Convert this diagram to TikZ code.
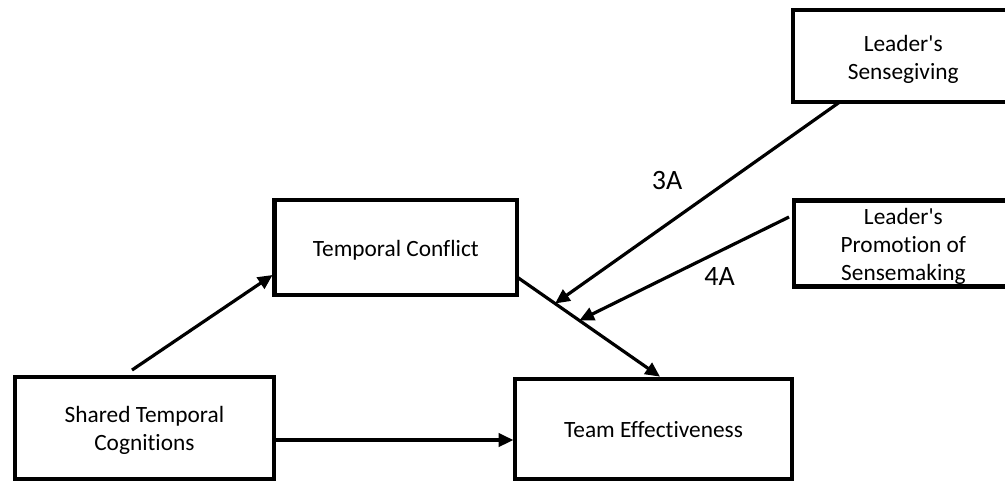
\documentclass[tikz,border=0pt]{standalone}
\usepackage{fontspec}
\setmainfont{Carlito}[Ligatures = {TeXOff, CommonOff}]
\usetikzlibrary{arrows.meta,calc}

\begin{document}
\begin{tikzpicture}[x = 0.75pt, y = -0.75pt,
    block/.style = {draw, line width = 3.2pt, inner sep = 2pt, outer sep = 0pt,
        align = center, text depth = 0pt, font = \fontsize{17.5}{21}\selectfont},
    link/.style = {line width = 2.4pt, -{Triangle[length = 11pt, width = 10pt]}},
    tag/.style = {font = \fontsize{21}{25}\selectfont}]
    \useasboundingbox (0,0) rectangle (1005,481);
    \clip (0,0) rectangle (1005,481); % the two right boxes run off the page
    % text height = twice the drop of the last baseline below the centre
    \node[block, minimum width = 194.5pt, minimum height = 76pt, text height = 34pt] (shared) at (144.4,428) {Shared Temporal\\Cognitions};
    \node[block, minimum width = 181.8pt, minimum height = 71pt, text height = 14pt] (conflict) at (395.8,247.4) {Temporal Conflict};
    \node[block, minimum width = 207.3pt, minimum height = 75.5pt, text height = 12.4pt] (team) at (653.5,429) {Team Effectiveness};
    \node[block, minimum width = 164.8pt, minimum height = 69pt, text height = 35.4pt] (giving) at (903.2,55.7) {Leader's\\Sensegiving};
    \node[block, minimum width = 164.4pt, minimum height = 64.5pt, text height = 56.2pt] (making) at (903.4,243.5) {Leader's\\Promotion of\\Sensemaking};

    \draw[link] ($(shared.north)+(-12.4,-7.3)$) -- ($(conflict.west)+(-2,27.6)$);
    \draw[link] ($(shared.east)+(0,12)$) -- ($(team.west)+(-2,11)$);
    \draw[link] ($(conflict.east)+(0,29.6)$)
        -- coordinate[pos = 0.266] (hit3) coordinate[pos = 0.436] (hit4) ($(team.north)+(6.5,-2)$);
    \draw[link] ($(giving.south)+(-63,0)$) -- (hit3);
    \draw[link] ($(making.west)+(-4.8,-26.5)$) -- (hit4);

    \node[tag] (lab3) at (667,181) {3A};
    \node[tag] (lab4) at (719.5,277) {4A};
\end{tikzpicture}
\end{document}
